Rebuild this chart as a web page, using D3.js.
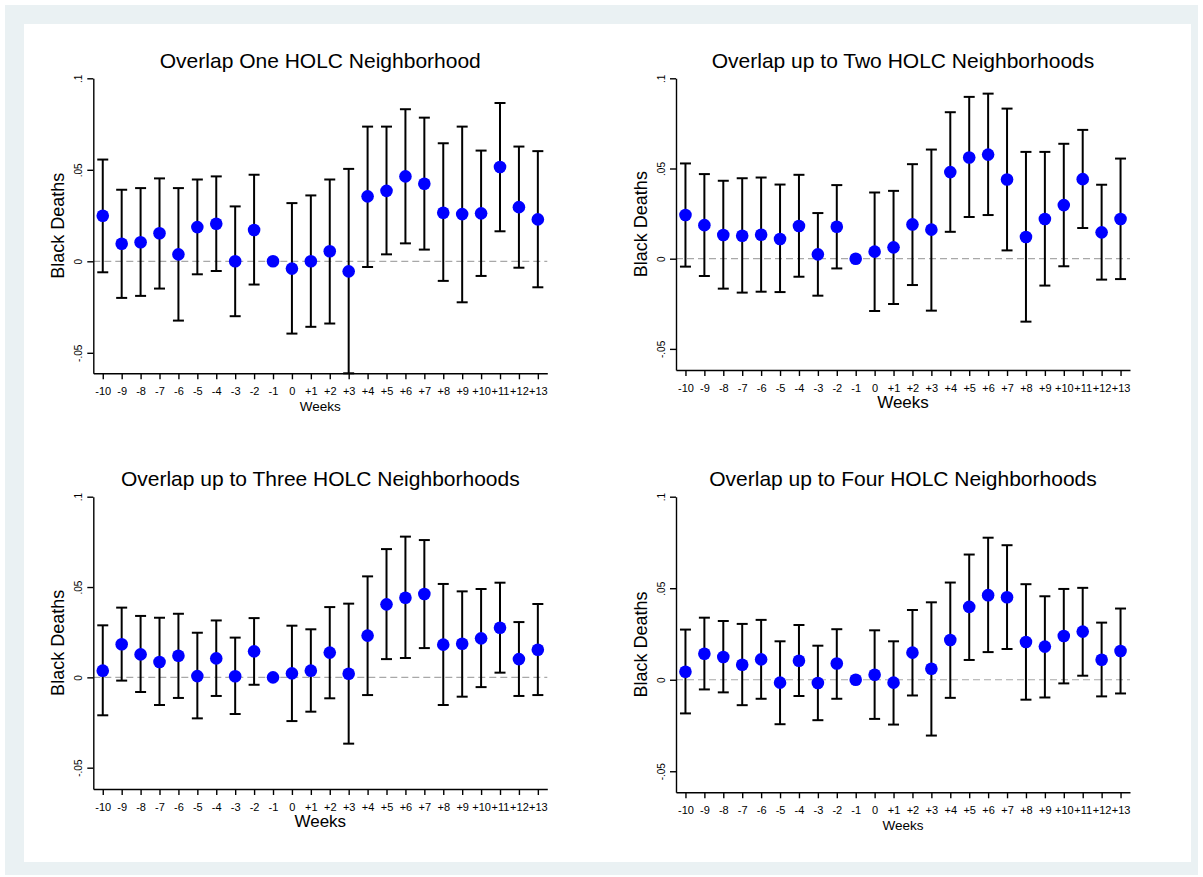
<!DOCTYPE html>
<html>
<head>
<meta charset="utf-8">
<script src="https://cdn.jsdelivr.net/npm/d3@7"></script>
<style>
body { margin: 0; background: #fff; }
text { font-family: "Liberation Sans", Arial, sans-serif; }
</style>
</head>
<body>
<div id="chart"></div>
<script>
// weeks relative to the event, -1 is the omitted reference week
var weeks = [-10,-9,-8,-7,-6,-5,-4,-3,-2,-1,0,1,2,3,4,5,6,7,8,9,10,11,12,13]
var weekLabels = ["-10","-9","-8","-7","-6","-5","-4","-3","-2","-1","0","+1","+2","+3","+4","+5","+6","+7","+8","+9","+10","+11","+12","+13"]
var yTicks = [-0.05, 0, 0.05, 0.1]
var yTickLabels = ["-.05", "0", ".05", ".1"]

var titles = ["Overlap One HOLC Neighborhood", "Overlap up to Two HOLC Neighborhoods",
              "Overlap up to Three HOLC Neighborhoods", "Overlap up to Four HOLC Neighborhoods"]

// panel 1: overlap one
var est1 = [0.0249,0.0096,0.0104,0.0153,0.0038,0.0187,0.0205,0.0000,0.0171,0,-0.0040,0.0000,0.0055,-0.0055,0.0355,0.0385,0.0464,0.0424,0.0265,0.0258,0.0262,0.0515,0.0296,0.0229]
var lo1  = [-0.0060,-0.0200,-0.0189,-0.0149,-0.0324,-0.0071,-0.0053,-0.0300,-0.0127,null,-0.0395,-0.0358,-0.0340,-0.0612,-0.0031,0.0038,0.0098,0.0064,-0.0107,-0.0224,-0.0080,0.0164,-0.0035,-0.0142]
var hi1  = [0.0556,0.0391,0.0400,0.0453,0.0400,0.0447,0.0464,0.0300,0.0473,null,0.0318,0.0360,0.0447,0.0505,0.0736,0.0736,0.0831,0.0785,0.0645,0.0736,0.0605,0.0865,0.0627,0.0602]

// panel 2: up to two
var est2 = [0.0242,0.0186,0.0131,0.0127,0.0133,0.0109,0.0181,0.0024,0.0177,0,0.0039,0.0063,0.0190,0.0161,0.0480,0.0561,0.0577,0.0439,0.0120,0.0220,0.0297,0.0441,0.0146,0.0220]
var lo2  = [-0.0044,-0.0096,-0.0166,-0.0188,-0.0183,-0.0185,-0.0100,-0.0205,-0.0054,null,-0.0290,-0.0251,-0.0146,-0.0288,0.0149,0.0231,0.0242,0.0046,-0.0349,-0.0149,-0.0042,0.0170,-0.0116,-0.0113]
var hi2  = [0.0528,0.0469,0.0432,0.0446,0.0450,0.0411,0.0465,0.0253,0.0408,null,0.0367,0.0376,0.0524,0.0605,0.0812,0.0897,0.0915,0.0832,0.0592,0.0592,0.0637,0.0714,0.0410,0.0555]

// panel 3: up to three
var est3 = [0.0037,0.0183,0.0127,0.0085,0.0120,0.0007,0.0105,0.0006,0.0144,0,0.0022,0.0037,0.0137,0.0020,0.0231,0.0404,0.0441,0.0461,0.0181,0.0186,0.0216,0.0275,0.0101,0.0153]
var lo3  = [-0.0210,-0.0018,-0.0081,-0.0153,-0.0114,-0.0227,-0.0103,-0.0203,-0.0041,null,-0.0242,-0.0190,-0.0116,-0.0367,-0.0098,0.0101,0.0107,0.0162,-0.0153,-0.0107,-0.0054,0.0026,-0.0103,-0.0098]
var hi3  = [0.0288,0.0386,0.0340,0.0330,0.0352,0.0247,0.0315,0.0220,0.0328,null,0.0286,0.0266,0.0389,0.0408,0.0559,0.0710,0.0779,0.0760,0.0517,0.0476,0.0489,0.0524,0.0306,0.0406]

// panel 4: up to four
var est4 = [0.0044,0.0142,0.0124,0.0082,0.0111,-0.0016,0.0104,-0.0018,0.0089,0,0.0027,-0.0016,0.0148,0.0060,0.0217,0.0398,0.0462,0.0451,0.0206,0.0181,0.0239,0.0263,0.0109,0.0157]
var lo4  = [-0.0184,-0.0053,-0.0069,-0.0139,-0.0104,-0.0243,-0.0089,-0.0221,-0.0104,null,-0.0214,-0.0245,-0.0086,-0.0305,-0.0099,0.0108,0.0151,0.0168,-0.0109,-0.0097,-0.0020,0.0022,-0.0091,-0.0075]
var hi4  = [0.0274,0.0339,0.0321,0.0305,0.0327,0.0210,0.0299,0.0186,0.0276,null,0.0270,0.0210,0.0381,0.0423,0.0531,0.0684,0.0776,0.0735,0.0522,0.0456,0.0496,0.0502,0.0312,0.0389]

// layout of the four panels (pixel boxes of the plot region)
var panels = [
  {title: titles[0], est: est1, lo: lo1, hi: hi1, left: 93.3, right: 547.3, top: 78.3, bottom: 373.3, yMin: -0.0612, weeksSize: 13.5},
  {title: titles[1], est: est2, lo: lo2, hi: hi2, left: 676, right: 1130, top: 78.3, bottom: 370, yMin: -0.0617, weeksSize: 17},
  {title: titles[2], est: est3, lo: lo3, hi: hi3, left: 93.3, right: 547.3, top: 496.7, bottom: 789, yMin: -0.0618, weeksSize: 17},
  {title: titles[3], est: est4, lo: lo4, hi: hi4, left: 676, right: 1130, top: 496.7, bottom: 792.3, yMin: -0.0615, weeksSize: 13.5}
]

var svg = d3.select("#chart").append("svg")
    .attr("width", 1203)
    .attr("height", 877)

svg.append("rect").attr("x", 5).attr("y", 5).attr("width", 1193).attr("height", 870).style("fill", "#eaf1f3")
svg.append("rect").attr("x", 24).attr("y", 24).attr("width", 1167).attr("height", 838).style("fill", "#fff")

panels.forEach(function(p){
  var xScale = d3.scaleLinear().domain([-10.5, 13.5]).range([p.left, p.right])
  var yScale = d3.scaleLinear().domain([p.yMin, 0.1]).range([p.bottom, p.top])
  var g = svg.append("g")

  // zero reference line
  g.append("line")
    .attr("x1", p.left).attr("x2", p.right)
    .attr("y1", yScale(0)).attr("y2", yScale(0))
    .style("stroke", "#a8a8a8").style("stroke-width", 1.2)
    .style("stroke-dasharray", "7,4")

  // axes
  var yAxis = d3.axisLeft(yScale).tickValues(yTicks).tickSize(6).tickSizeOuter(0)
    .tickFormat(function(d, i){ return yTickLabels[i] })
  var yA = g.append("g").attr("transform", "translate(" + p.left + ",0)").call(yAxis)
  yA.selectAll("text")
    .attr("transform", "rotate(-90)")
    .attr("x", 0).attr("y", -11.5).attr("dy", 0)
    .attr("text-anchor", "middle")
    .style("font-size", "10px")

  var xAxis = d3.axisBottom(xScale).tickValues(weeks).tickSize(6).tickSizeOuter(0).tickPadding(8)
    .tickFormat(function(d, i){ return weekLabels[i] })
  var xA = g.append("g").attr("transform", "translate(0," + p.bottom + ")").call(xAxis)
  xA.selectAll("text").style("font-size", "11px")

  g.selectAll(".domain, .tick line").style("stroke", "#000").style("stroke-width", 1.4)

  // error bars
  var rows = weeks.map(function(w, i){ return {w: w, est: p.est[i], lo: p.lo[i], hi: p.hi[i]} })
  var withCI = rows.filter(function(d){ return d.lo != null })

  g.selectAll(".ci").data(withCI).enter().append("line")
    .attr("x1", function(d){ return xScale(d.w) }).attr("x2", function(d){ return xScale(d.w) })
    .attr("y1", function(d){ return yScale(d.lo) }).attr("y2", function(d){ return yScale(d.hi) })
    .style("stroke", "#000").style("stroke-width", 2)
  g.selectAll(".capLo").data(withCI).enter().append("line")
    .attr("x1", function(d){ return xScale(d.w) - 5.5 }).attr("x2", function(d){ return xScale(d.w) + 5.5 })
    .attr("y1", function(d){ return yScale(d.lo) }).attr("y2", function(d){ return yScale(d.lo) })
    .style("stroke", "#000").style("stroke-width", 2)
  g.selectAll(".capHi").data(withCI).enter().append("line")
    .attr("x1", function(d){ return xScale(d.w) - 5.5 }).attr("x2", function(d){ return xScale(d.w) + 5.5 })
    .attr("y1", function(d){ return yScale(d.hi) }).attr("y2", function(d){ return yScale(d.hi) })
    .style("stroke", "#000").style("stroke-width", 2)

  // point estimates
  g.selectAll(".dot").data(rows).enter().append("circle")
    .attr("cx", function(d){ return xScale(d.w) })
    .attr("cy", function(d){ return yScale(d.est) })
    .attr("r", 6.3)
    .style("fill", "#0000ff")

  // labels
  var midX = (p.left + p.right) / 2
  g.append("text").attr("x", midX).attr("y", p.top - 10.7)
    .attr("text-anchor", "middle").style("font-size", "21px").text(p.title)
  g.append("text").attr("x", midX).attr("y", p.bottom + 38)
    .attr("text-anchor", "middle").style("font-size", p.weeksSize + "px").text("Weeks")
  g.append("text").attr("x", -(p.top + p.bottom) / 2).attr("y", p.left - 29)
    .attr("transform", "rotate(-90)")
    .attr("text-anchor", "middle").style("font-size", "18px").text("Black Deaths")
})
</script>
</body>
</html>
